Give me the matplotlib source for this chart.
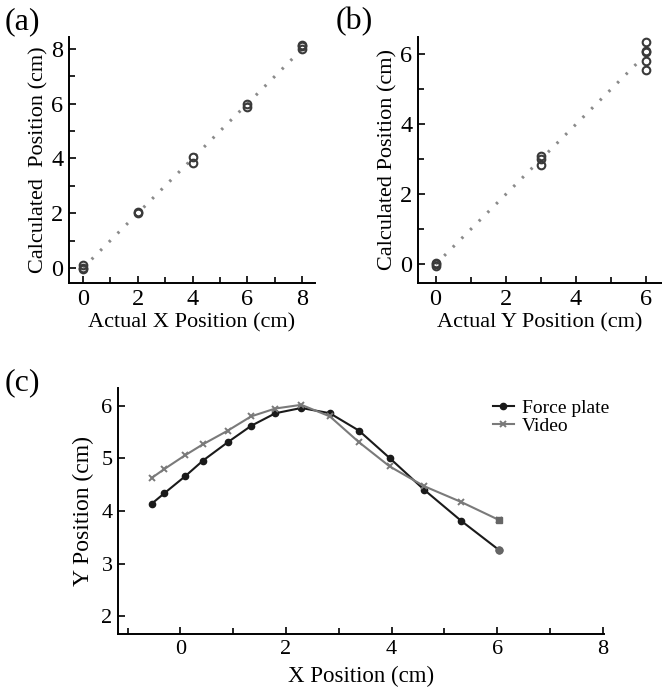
import matplotlib
matplotlib.use("Agg")
import matplotlib.pyplot as plt
from matplotlib.ticker import MultipleLocator

plt.rcParams["font.family"] = ["Liberation Serif", "DejaVu Serif"]

# (a) actual vs calculated X position
ax_actual = [0, 0, 0, 2, 2, 4, 4, 6, 6, 8, 8, 8]
ax_calc = [0.1, -0.05, 0.0, 2.0, 2.05, 3.85, 4.05, 5.9, 6.0, 8.0, 8.1, 8.15]
ax_fit = [0, 8]

# (b) actual vs calculated Y position
ay_actual = [0, 0, 0, 3, 3, 3, 6, 6, 6, 6, 6]
ay_calc = [0.05, -0.05, 0.0, 2.85, 3.0, 3.1, 5.55, 5.8, 6.05, 6.1, 6.35]
ay_fit = [0, 5.9]

# (c) trajectory
traj_x = [-0.54, -0.30, 0.09, 0.43, 0.90, 1.34, 1.80, 2.29, 2.83, 3.38, 3.96, 4.62, 5.32, 6.03]
force_y = [4.14, 4.34, 4.66, 4.96, 5.31, 5.62, 5.86, 5.96, 5.86, 5.53, 5.01, 4.40, 3.81, 3.26]
video_y = [4.63, 4.80, 5.06, 5.27, 5.53, 5.80, 5.95, 6.02, 5.80, 5.31, 4.85, 4.47, 4.17, 3.83]

W, H = 662, 689
fig = plt.figure(figsize=(W / 100, H / 100), dpi=100)


def box(l, t, r, b):
    return [l / W, 1 - b / H, (r - l) / W, (b - t) / H]


def style(ax, size, minor_x=True, minor_y=True):
    for s in ["top", "right"]:
        ax.spines[s].set_visible(False)
    for s in ["left", "bottom"]:
        ax.spines[s].set_linewidth(1.4)
    ax.tick_params(which="both", direction="in", width=1.2, labelsize=size, pad=4)
    ax.tick_params(which="major", length=5)
    ax.tick_params(which="minor", length=4.5)
    if minor_x:
        ax.xaxis.set_minor_locator(MultipleLocator(1))
    if minor_y:
        ax.yaxis.set_minor_locator(MultipleLocator(1))


# panel a
a = fig.add_axes(box(69, 37, 315, 283))
a.plot(ax_fit, ax_fit, color="#8a8a8a", lw=2.2, ls=(0, (0.8, 3.2)))
a.plot(ax_actual, ax_calc, ls="none", marker="o", ms=5.5, mfc="none",
       mec="#3a3a3a", mew=1.5)
a.set_xlim(-0.51, 8.47)
a.set_ylim(-0.55, 8.44)
a.xaxis.set_major_locator(MultipleLocator(2))
a.yaxis.set_major_locator(MultipleLocator(2))
style(a, 17.5)
a.set_xlabel("Actual X Position (cm)", fontsize=16, labelpad=3)
a.set_ylabel("Calculated  Position (cm)", fontsize=16, labelpad=2)

# panel b
b = fig.add_axes(box(418, 37, 662, 283))
b.plot(ay_fit, ay_fit, color="#8a8a8a", lw=2.2, ls=(0, (0.8, 3.2)))
b.plot(ay_actual, ay_calc, ls="none", marker="o", ms=5.5, mfc="none",
       mec="#3a3a3a", mew=1.5)
b.set_xlim(-0.5, 6.45)
b.set_ylim(-0.53, 6.49)
b.xaxis.set_major_locator(MultipleLocator(2))
b.yaxis.set_major_locator(MultipleLocator(2))
style(b, 17.5)
b.set_xlabel("Actual Y Position (cm)", fontsize=16, labelpad=3)
b.set_ylabel("Calculated Position (cm)", fontsize=16, labelpad=2)

# panel c
c = fig.add_axes(box(118, 388, 604, 634))
c.plot(traj_x, force_y, color="#1a1a1a", lw=1.5, marker="o", ms=4.5,
       label="Force plate")
c.plot(traj_x, video_y, color="#7a7a7a", lw=1.5, marker="x", ms=5, mew=1.4,
       label="Video")
# end points as drawn in the original
c.plot(traj_x[-1:], force_y[-1:], ls="none", marker="o", ms=5, color="#666666")
c.plot(traj_x[-1:], video_y[-1:], ls="none", marker="s", ms=4.5, color="#666666")
c.set_xlim(-1.18, 8.02)
c.set_ylim(1.66, 6.34)
c.xaxis.set_major_locator(MultipleLocator(2))
c.yaxis.set_major_locator(MultipleLocator(1))
style(c, 16, minor_y=False)
c.set_xlabel("X Position (cm)", fontsize=16.5, labelpad=5)
c.set_ylabel("Y Position (cm)", fontsize=17, labelpad=5)
c.legend(loc="upper left", bbox_to_anchor=(0.755, 0.985), frameon=False,
         fontsize=14, handlelength=1.1, handletextpad=0.4, labelspacing=0.0,
         borderaxespad=0.0)

fig.text(5 / W, 1 - 22 / H, "(a)", fontsize=23, va="center", ha="left")
fig.text(336 / W, 1 - 22 / H, "(b)", fontsize=23, va="center", ha="left")
fig.text(5 / W, 1 - 383 / H, "(c)", fontsize=23, va="center", ha="left")

fig.savefig("out.png", dpi=100)
